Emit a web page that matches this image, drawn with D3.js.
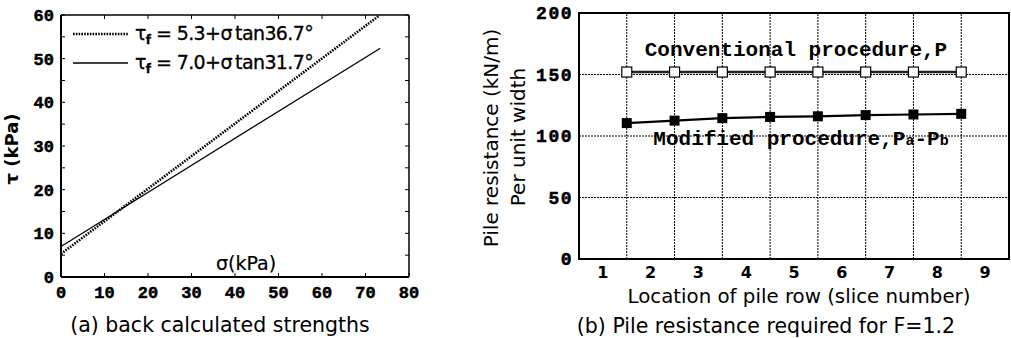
<!DOCTYPE html>
<html>
<head>
<meta charset="utf-8">
<script src="https://cdn.jsdelivr.net/npm/d3@7"></script>
<style>
  body { margin: 0; background: #fff; }
  svg { display: block; }
  text { fill: #000; }
</style>
</head>
<body>
<div id="chart"></div>
<script>
// (a) back calculated strength envelopes, end points
const sigmaDotted = [0, 73.2];
const tauDotted = [5.3, 59.9];
const sigmaSolid = [0, 73.4];
const tauSolid = [7.0, 52.4];
const legendLabels = [['5.3', '36.7'], ['7.0', '31.7']];
const leftXTicks = [0, 10, 20, 30, 40, 50, 60, 70, 80];
const leftYTicks = [0, 10, 20, 30, 40, 50, 60];

// (b) pile resistance per slice
const sliceTicks = [1, 2, 3, 4, 5, 6, 7, 8, 9];
const pileRows = [1.5, 2.5, 3.5, 4.5, 5.5, 6.5, 7.5, 8.5];
const conventional = [152, 152, 152, 152, 152, 152, 152, 152];
const modified = [110.5, 112.5, 114.5, 115.5, 116, 117, 117.5, 118];
const rightYTicks = [0, 50, 100, 150, 200];

const W = 1011, H = 338;
const svg = d3.select('#chart').append('svg')
    .attr('width', W)
    .attr('height', H);

const mono = '"Liberation Mono", "Courier New", monospace';
const sans = '"DejaVu Sans", Verdana, sans-serif';

// ---------- left chart ----------
const xa = d3.scaleLinear().domain([0, 80]).range([61, 409]);
const ya = d3.scaleLinear().domain([0, 60]).range([277, 15]);
const left = svg.append('g').classed('left', true);

// ticks inside the frame
let minorY = d3.range(0, 61, 5);
left.selectAll('.ly-tick').data(minorY).enter().append('line')
    .attr('x1', xa(0)).attr('x2', xa(0) + 4)
    .attr('y1', d => ya(d)).attr('y2', d => ya(d))
    .style('stroke', '#000').style('stroke-width', 1);
left.selectAll('.ry-tick').data(minorY).enter().append('line')
    .attr('x1', xa(80)).attr('x2', xa(80) - 4)
    .attr('y1', d => ya(d)).attr('y2', d => ya(d))
    .style('stroke', '#000').style('stroke-width', 1);
left.selectAll('.bx-tick').data(leftXTicks).enter().append('line')
    .attr('x1', d => xa(d)).attr('x2', d => xa(d))
    .attr('y1', ya(0)).attr('y2', ya(0) - 4)
    .style('stroke', '#000').style('stroke-width', 1);
left.selectAll('.tx-tick').data(leftXTicks).enter().append('line')
    .attr('x1', d => xa(d)).attr('x2', d => xa(d))
    .attr('y1', ya(60)).attr('y2', ya(60) + 4)
    .style('stroke', '#000').style('stroke-width', 1);

// frame
left.append('line').attr('x1', xa(0)).attr('x2', xa(80)).attr('y1', ya(60)).attr('y2', ya(60))
    .style('stroke', '#000').style('stroke-width', 1.5);
left.append('line').attr('x1', xa(80)).attr('x2', xa(80)).attr('y1', ya(0)).attr('y2', ya(60))
    .style('stroke', '#000').style('stroke-width', 1.5);
left.append('line').attr('x1', xa(0)).attr('x2', xa(80)).attr('y1', ya(0)).attr('y2', ya(0))
    .style('stroke', '#000').style('stroke-width', 2);
left.append('line').attr('x1', xa(0)).attr('x2', xa(0)).attr('y1', ya(0)).attr('y2', ya(60))
    .style('stroke', '#000').style('stroke-width', 2);

left.selectAll('.ly-label').data(leftYTicks).enter().append('text')
    .attr('x', xa(0) - 7).attr('y', d => ya(d) + 6)
    .attr('text-anchor', 'end')
    .style('font-family', mono).style('font-weight', 'bold').style('font-size', '17px')
    .style('stroke', '#000').style('stroke-width', 0.5)
    .text(d => d);
left.selectAll('.lx-label').data(leftXTicks).enter().append('text')
    .attr('x', d => xa(d)).attr('y', ya(0) + 21)
    .attr('text-anchor', 'middle')
    .style('font-family', mono).style('font-weight', 'bold').style('font-size', '17px')
    .style('stroke', '#000').style('stroke-width', 0.5)
    .text(d => d);

const lineA = d3.line().x(d => xa(d[0])).y(d => ya(d[1]));
left.append('path')
    .attr('d', lineA(d3.zip(sigmaDotted, tauDotted)))
    .style('fill', 'none').style('stroke', '#000')
    .style('stroke-width', 2.6).style('stroke-dasharray', '1.6,1.2');
left.append('path')
    .attr('d', lineA(d3.zip(sigmaSolid, tauSolid)))
    .style('fill', 'none').style('stroke', '#000').style('stroke-width', 1.3);

// legend
const legend = left.append('g').classed('legend', true);
legendLabels.forEach((lab, i) => {
    let y = 34 + i * 29;
    legend.append('line')
        .attr('x1', 73).attr('x2', 128).attr('y1', y).attr('y2', y)
        .style('stroke', '#000')
        .style('stroke-width', i === 0 ? 2.6 : 1.5)
        .style('stroke-dasharray', i === 0 ? '1.6,1.2' : null);
    let t = legend.append('text')
        .attr('x', 135).attr('y', y + 6)
        .style('font-family', sans).style('font-size', '19px')
        .style('letter-spacing', '-0.6px')
        .style('stroke', '#000').style('stroke-width', 0.3);
    t.append('tspan').text('τ');
    t.append('tspan').attr('dy', 4).style('font-size', '12px').style('font-weight', 'bold').text('f');
    t.append('tspan').attr('dy', -4).text(` = ${lab[0]}+σ\u2009tan${lab[1]}°`);
});

left.append('text')
    .attr('x', 246).attr('y', 270)
    .attr('text-anchor', 'middle')
    .style('font-family', sans).style('font-size', '19px')
    .style('stroke', '#000').style('stroke-width', 0.2)
    .text('σ(kPa)');
left.append('text')
    .attr('transform', 'translate(18,149) rotate(-90)')
    .attr('text-anchor', 'middle')
    .style('font-family', sans).style('font-size', '18px').style('font-weight', 'bold')
    .text('τ (kPa)');
left.append('text')
    .attr('x', 220).attr('y', 332)
    .attr('text-anchor', 'middle')
    .style('font-family', sans).style('font-size', '20.5px')
    .text('(a) back calculated strengths');

// ---------- right chart ----------
const xb = d3.scaleLinear().domain([0.5, 9.5]).range([579, 1009]);
const yb = d3.scaleLinear().domain([0, 200]).range([259, 13]);
const right = svg.append('g').classed('right', true);

right.selectAll('.hgrid').data([50, 100, 150]).enter().append('line')
    .attr('x1', xb(0.5)).attr('x2', xb(9.5))
    .attr('y1', d => yb(d)).attr('y2', d => yb(d))
    .style('stroke', '#000').style('stroke-width', 1).style('stroke-dasharray', '2,1');
right.selectAll('.vgrid').data(pileRows).enter().append('line')
    .attr('x1', d => xb(d)).attr('x2', d => xb(d))
    .attr('y1', yb(0)).attr('y2', yb(200))
    .style('stroke', '#000').style('stroke-width', 1).style('stroke-dasharray', '2,1');

right.append('rect')
    .attr('x', xb(0.5)).attr('y', yb(200))
    .attr('width', xb(9.5) - xb(0.5)).attr('height', yb(0) - yb(200))
    .style('fill', 'none').style('stroke', '#000').style('stroke-width', 2);

right.selectAll('.ry-label').data(rightYTicks).enter().append('text')
    .attr('x', xb(0.5) - 6).attr('y', d => yb(d) + 6)
    .attr('text-anchor', 'end')
    .style('font-family', mono).style('font-weight', 'bold').style('font-size', '18px')
    .style('letter-spacing', '1.5px')
    .style('stroke', '#000').style('stroke-width', 0.5)
    .text(d => d);
right.selectAll('.rx-label').data(sliceTicks).enter().append('text')
    .attr('x', d => xb(d)).attr('y', yb(0) + 19)
    .attr('text-anchor', 'middle')
    .style('font-family', sans).style('font-weight', 'bold').style('font-size', '16px')
    .text(d => d);

const lineB = d3.line().x(d => xb(d[0])).y(d => yb(d[1]));
right.append('path')
    .attr('d', lineB(d3.zip(pileRows, conventional)))
    .style('fill', 'none').style('stroke', '#222').style('stroke-width', 2.6);
right.append('path')
    .attr('d', lineB(d3.zip(pileRows, modified)))
    .style('fill', 'none').style('stroke', '#000').style('stroke-width', 2.2);

const ms = 10;
right.selectAll('.conv-pt').data(d3.zip(pileRows, conventional)).enter().append('rect')
    .attr('x', d => xb(d[0]) - ms / 2).attr('y', d => yb(d[1]) - ms / 2)
    .attr('width', ms).attr('height', ms)
    .style('fill', '#fff').style('stroke', '#000').style('stroke-width', 1.2);
right.selectAll('.mod-pt').data(d3.zip(pileRows, modified)).enter().append('rect')
    .attr('x', d => xb(d[0]) - ms / 2).attr('y', d => yb(d[1]) - ms / 2)
    .attr('width', ms).attr('height', ms)
    .style('fill', '#000');

right.append('text')
    .attr('x', 796).attr('y', 56)
    .attr('text-anchor', 'middle')
    .style('font-family', mono).style('font-weight', 'bold').style('font-size', '21px')
    .text('Conventional procedure,P');
let mt = right.append('text')
    .attr('x', 801).attr('y', 145)
    .attr('text-anchor', 'middle')
    .style('font-family', mono).style('font-weight', 'bold').style('font-size', '21px');
mt.append('tspan').text('Modified procedure,P');
mt.append('tspan').style('font-size', '15px').text('a');
mt.append('tspan').text('-P');
mt.append('tspan').style('font-size', '15px').text('b');

right.append('text')
    .attr('transform', 'translate(498,138) rotate(-90)')
    .attr('text-anchor', 'middle')
    .style('font-family', sans).style('font-size', '20px')
    .text('Pile resistance (kN/m)');
right.append('text')
    .attr('transform', 'translate(525,137) rotate(-90)')
    .attr('text-anchor', 'middle')
    .style('font-family', sans).style('font-size', '20px')
    .text('Per unit width');
right.append('text')
    .attr('x', 799).attr('y', 303)
    .attr('text-anchor', 'middle')
    .style('font-family', sans).style('font-size', '19.8px')
    .text('Location of pile row (slice number)');
right.append('text')
    .attr('x', 766).attr('y', 333)
    .attr('text-anchor', 'middle')
    .style('font-family', sans).style('font-size', '20.5px')
    .text('(b) Pile resistance required for F=1.2');
</script>
</body>
</html>
